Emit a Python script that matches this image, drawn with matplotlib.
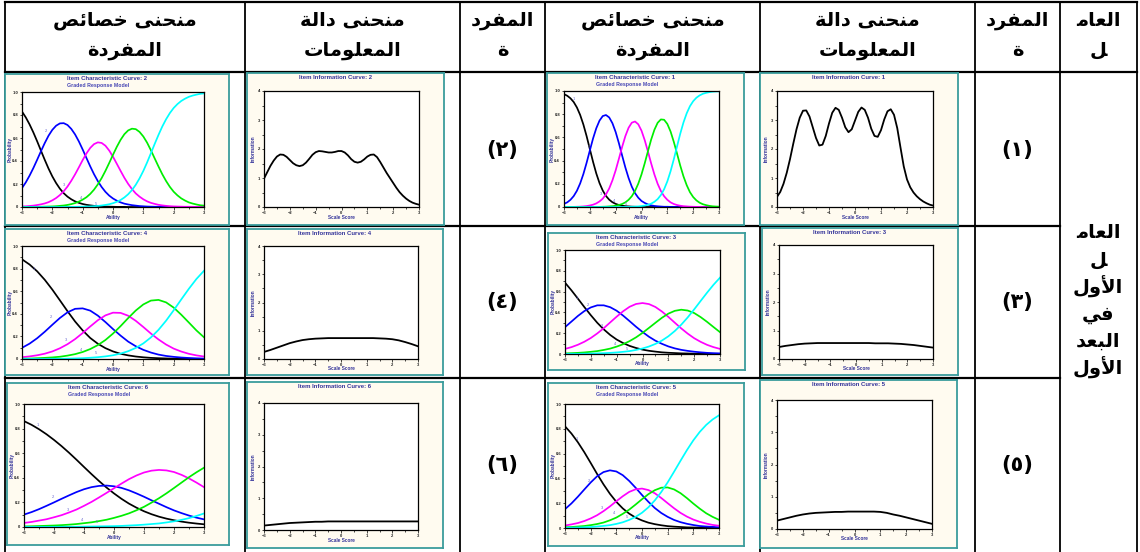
import matplotlib
matplotlib.use("Agg")
import matplotlib.pyplot as plt

W, H = 1140, 552

# ---- data ----
theta = [-3.0, -2.75, -2.5, -2.25, -2.0, -1.75, -1.5, -1.25, -1.0, -0.75, -0.5, -0.25,
         0.0, 0.25, 0.5, 0.75, 1.0, 1.25, 1.5, 1.75, 2.0, 2.25, 2.5, 2.75, 3.0]
theta_fine = [-3.0, -2.875, -2.75, -2.625, -2.5, -2.375, -2.25, -2.125, -2.0, -1.875,
              -1.75, -1.625, -1.5, -1.375, -1.25, -1.125, -1.0, -0.875, -0.75, -0.625,
              -0.5, -0.375, -0.25, -0.125, 0.0, 0.125, 0.25, 0.375, 0.5, 0.625, 0.75,
              0.875, 1.0, 1.125, 1.25, 1.375, 1.5, 1.625, 1.75, 1.875, 2.0, 2.125, 2.25,
              2.375, 2.5, 2.625, 2.75, 2.875, 3.0]

# items 1 and 2 (sharper curves) on theta_fine
icc_item1 = [
    [.973, .959, .937, .905, .858, .794, .711, .611, .500, .389, .289, .206, .142, .095, .063, .041, .027,
     .017, .011, .007, .005, .003, .002, .001, .001, 0, 0, 0, 0, 0, 0, 0, 0, 0, 0, 0, 0, 0, 0, 0, 0, 0, 0,
     0, 0, 0, 0, 0, 0],
    [.027, .040, .062, .094, .140, .203, .284, .381, .487, .591, .679, .745, .784, .793, .772, .722, .646,
     .550, .444, .341, .250, .175, .119, .080, .052, .035, .022, .014, .009, .006, .004, .002, .002, .001,
     .001, 0, 0, 0, 0, 0, 0, 0, 0, 0, 0, 0, 0, 0, 0],
    [0, .001, .001, .001, .002, .003, .005, .008, .013, .020, .031, .048, .072, .109, .160, .230, .316,
     .416, .518, .611, .683, .727, .737, .713, .658, .576, .478, .375, .280, .200, .138, .093, .062, .040,
     .026, .017, .011, .007, .005, .003, .002, .001, .001, 0, 0, 0, 0, 0, 0],
    [0, 0, 0, 0, 0, 0, 0, 0, 0, .001, .001, .001, .002, .003, .005, .007, .011, .017, .026, .040, .062,
     .093, .139, .201, .281, .377, .481, .582, .666, .726, .755, .752, .716, .651, .562, .461, .357, .264,
     .188, .128, .086, .057, .037, .024, .016, .010, .006, .004, .003],
    [0, 0, 0, 0, 0, 0, 0, 0, 0, 0, 0, 0, 0, 0, 0, 0, 0, 0, 0, .001, .001, .002, .003, .005, .008, .012,
     .019, .029, .045, .068, .103, .153, .221, .308, .411, .522, .632, .729, .808, .869, .912, .942, .962,
     .976, .984, .990, .994, .996, .997],
]
icc_item2 = [
    [.830, .779, .718, .648, .571, .490, .410, .334, .266, .208, .159, .120, .090, .067, .049, .036, .026,
     .019, .014, .010, .007, .005, .004, .003, .002, .001, .001, .001, 0, 0, 0, 0, 0, 0, 0, 0, 0, 0, 0, 0,
     0, 0, 0, 0, 0, 0, 0, 0, 0],
    [.165, .214, .273, .339, .411, .485, .556, .620, .671, .707, .727, .729, .713, .679, .631, .570, .500,
     .426, .353, .285, .225, .174, .132, .099, .074, .055, .040, .029, .022, .016, .012, .008, .006, .004,
     .003, .002, .002, .001, .001, .001, 0, 0, 0, 0, 0, 0, 0, 0, 0],
    [.005, .006, .009, .012, .017, .023, .031, .042, .058, .078, .104, .137, .178, .228, .284, .345, .408,
     .466, .514, .547, .562, .557, .533, .491, .437, .376, .314, .254, .201, .156, .118, .090, .067, .049,
     .036, .027, .019, .014, .010, .007, .005, .004, .003, .002, .002, .001, .001, .001, 0],
    [0, 0, .001, .001, .001, .002, .003, .004, .005, .007, .010, .013, .018, .025, .034, .047, .064, .085,
     .114, .151, .197, .251, .314, .383, .454, .523, .584, .633, .666, .681, .677, .653, .613, .559, .493,
     .422, .352, .285, .226, .175, .133, .101, .075, .056, .040, .030, .022, .015, .012],
    [0, 0, 0, 0, 0, 0, 0, 0, 0, 0, 0, 0, .001, .001, .001, .002, .003, .004, .005, .007, .009, .013, .018,
     .024, .033, .045, .061, .083, .111, .147, .193, .249, .314, .388, .468, .549, .627, .700, .763, .817,
     .861, .895, .922, .942, .958, .969, .977, .984, .988],
]
# items 3-6 on theta
icc_item3 = [
    [.686, .612, .532, .451, .373, .300, .237, .183, .139, .105, .078, .058, .042, .031, .023, .016, .012, .009, .006, .005, .003, .002, .002, .001, .001],
    [.258, .312, .366, .413, .448, .468, .468, .450, .416, .369, .316, .262, .212, .166, .128, .098, .073, .054, .040, .030, .022, .016, .011, .008, .006],
    [.049, .066, .089, .118, .154, .198, .248, .304, .359, .411, .454, .481, .490, .480, .452, .409, .357, .301, .246, .196, .152, .117, .088, .066, .049],
    [.006, .008, .011, .015, .021, .028, .039, .052, .071, .094, .124, .160, .203, .251, .300, .348, .388, .415, .426, .418, .394, .355, .309, .259, .210],
    [.001, .002, .002, .003, .004, .006, .008, .011, .015, .021, .028, .039, .053, .072, .097, .129, .170, .221, .282, .352, .429, .510, .590, .666, .734],
]
icc_item4 = [
    [.882, .836, .776, .701, .614, .519, .423, .332, .253, .186, .135, .096, .067, .046, .032, .022, .015, .010, .007, .005, .003, .002, .002, .001, .001],
    [.099, .136, .184, .241, .303, .363, .413, .444, .448, .428, .384, .327, .265, .207, .154, .113, .081, .057, .039, .027, .019, .013, .009, .006, .004],
    [.016, .023, .033, .047, .067, .095, .131, .176, .230, .288, .343, .386, .410, .408, .383, .338, .283, .225, .173, .128, .092, .066, .046, .032, .022],
    [.003, .004, .007, .010, .014, .020, .030, .043, .062, .088, .123, .168, .225, .291, .362, .429, .483, .517, .523, .501, .455, .392, .323, .253, .192],
    [0, .001, .001, .001, .002, .002, .003, .005, .007, .011, .016, .023, .033, .048, .069, .098, .138, .191, .258, .339, .431, .527, .621, .708, .781],
]
icc_item5 = [
    [.820, .762, .692, .612, .525, .436, .352, .276, .211, .158, .116, .084, .061, .043, .031, .022, .015, .011, .008, .005, .004, .003, .002, .001, .001],
    [.152, .198, .252, .310, .367, .417, .451, .465, .456, .426, .380, .325, .266, .211, .161, .121, .090, .065, .047, .034, .024, .016, .012, .009, .006],
    [.020, .029, .040, .056, .077, .103, .136, .174, .216, .256, .291, .312, .318, .306, .280, .242, .200, .159, .122, .092, .068, .050, .036, .025, .018],
    [.006, .008, .012, .016, .023, .032, .044, .062, .084, .114, .148, .189, .232, .273, .305, .325, .327, .311, .281, .241, .197, .156, .119, .090, .066],
    [.002, .003, .004, .006, .008, .012, .017, .023, .033, .046, .065, .090, .123, .167, .223, .290, .368, .454, .542, .628, .707, .775, .831, .875, .909],
]
icc_item6 = [
    [.861, .831, .795, .754, .708, .658, .604, .547, .488, .430, .374, .321, .273, .229, .190, .157, .128, .104, .084, .068, .055, .044, .035, .028, .022],
    [.101, .121, .145, .172, .200, .229, .257, .284, .307, .324, .334, .337, .331, .318, .298, .273, .246, .217, .189, .161, .135, .113, .093, .076, .062],
    [.033, .041, .052, .063, .079, .096, .118, .142, .172, .204, .240, .277, .315, .353, .389, .419, .443, .458, .464, .460, .447, .424, .395, .361, .324],
    [.005, .006, .008, .010, .012, .015, .019, .024, .031, .038, .048, .059, .074, .091, .111, .136, .164, .198, .234, .274, .317, .361, .405, .445, .482],
    [.001, .001, .001, .001, .001, .002, .002, .002, .003, .004, .005, .006, .007, .009, .012, .015, .019, .024, .029, .037, .046, .058, .072, .090, .110],
]

info_item1 = [0.35, 0.52, 0.80, 1.18, 1.65, 2.18, 2.68, 3.08, 3.32, 3.33, 3.12, 2.75, 2.38,
              2.12, 2.15, 2.45, 2.88, 3.25, 3.42, 3.35, 3.08, 2.75, 2.58, 2.68, 2.98, 3.28,
              3.43, 3.35, 3.08, 2.70, 2.45, 2.42, 2.65, 3.02, 3.30, 3.37, 3.18, 2.72, 2.05,
              1.40, 0.95, 0.68, 0.50, 0.37, 0.27, 0.19, 0.13, 0.08, 0.05]
info_item2 = [0.98, 1.20, 1.42, 1.60, 1.74, 1.81, 1.80, 1.73, 1.62, 1.51, 1.44, 1.41, 1.44,
              1.53, 1.66, 1.80, 1.89, 1.93, 1.92, 1.90, 1.88, 1.88, 1.90, 1.93, 1.93, 1.88,
              1.78, 1.65, 1.56, 1.53, 1.56, 1.64, 1.74, 1.80, 1.81, 1.72, 1.55, 1.36, 1.17,
              1.00, 0.83, 0.66, 0.51, 0.39, 0.29, 0.21, 0.15, 0.11, 0.08]
info_item3 = [0.42, 0.46, 0.49, 0.52, 0.54, 0.55, 0.56, 0.56, 0.56, 0.56, 0.56, 0.56, 0.56,
              0.56, 0.56, 0.55, 0.55, 0.55, 0.54, 0.53, 0.51, 0.49, 0.46, 0.43, 0.40]
info_item4 = [0.25, 0.32, 0.40, 0.48, 0.56, 0.62, 0.67, 0.70, 0.72, 0.73, 0.74, 0.74, 0.74,
              0.74, 0.74, 0.74, 0.74, 0.74, 0.73, 0.72, 0.70, 0.66, 0.60, 0.53, 0.45]
info_item5 = [0.26, 0.31, 0.36, 0.41, 0.45, 0.48, 0.50, 0.51, 0.52, 0.53, 0.53, 0.54, 0.54,
              0.54, 0.54, 0.54, 0.53, 0.50, 0.45, 0.41, 0.36, 0.31, 0.26, 0.21, 0.16]
info_item6 = [0.14, 0.16, 0.18, 0.20, 0.22, 0.23, 0.24, 0.25, 0.26, 0.26, 0.27, 0.27, 0.27,
              0.27, 0.27, 0.27, 0.27, 0.27, 0.27, 0.27, 0.27, 0.27, 0.27, 0.27, 0.27]

category_labels = ['1', '2', '3', '4', '5']
item_digits = ['١', '٢', '٣', '٤', '٥', '٦']

# ---- minimal Arabic shaping (presentation forms, visual order) ----
AR_FORMS = {
    'ا': (0xFE8D, 0xFE8E), 'أ': (0xFE83, 0xFE84),
    'ب': (0xFE8F, 0xFE90, 0xFE91, 0xFE92), 'ة': (0xFE93, 0xFE94),
    'ت': (0xFE95, 0xFE96, 0xFE97, 0xFE98), 'ح': (0xFEA1, 0xFEA2, 0xFEA3, 0xFEA4),
    'خ': (0xFEA5, 0xFEA6, 0xFEA7, 0xFEA8), 'د': (0xFEA9, 0xFEAA), 'ر': (0xFEAD, 0xFEAE),
    'ص': (0xFEB9, 0xFEBA, 0xFEBB, 0xFEBC), 'ع': (0xFEC9, 0xFECA, 0xFECB, 0xFECC),
    'ف': (0xFED1, 0xFED2, 0xFED3, 0xFED4), 'ل': (0xFEDD, 0xFEDE, 0xFEDF, 0xFEE0),
    'م': (0xFEE1, 0xFEE2, 0xFEE3, 0xFEE4), 'ن': (0xFEE5, 0xFEE6, 0xFEE7, 0xFEE8),
    'و': (0xFEED, 0xFEEE), 'ى': (0xFEEF, 0xFEF0), 'ي': (0xFEF1, 0xFEF2, 0xFEF3, 0xFEF4),
    'ئ': (0xFE89, 0xFE8A, 0xFE8B, 0xFE8C), 'لأ': (0xFEF7, 0xFEF8), 'لا': (0xFEFB, 0xFEFC),
}
ZWJ = '\u200d'


def shape(text):
    toks = []
    i = 0
    while i < len(text):
        if text[i] == 'ل' and i + 1 < len(text) and text[i + 1] in 'اأ':
            toks.append(text[i:i + 2])
            i += 2
        else:
            toks.append(text[i])
            i += 1

    def joins_next(t):
        return t == ZWJ or (t in AR_FORMS and len(AR_FORMS[t]) == 4)

    out = []
    for k, t in enumerate(toks):
        if t == ZWJ:
            continue
        if t not in AR_FORMS:
            out.append(t)
            continue
        forms = AR_FORMS[t]
        prev = toks[k - 1] if k > 0 else None
        nxt = toks[k + 1] if k + 1 < len(toks) else None
        jp = prev is not None and joins_next(prev)
        jn = len(forms) == 4 and nxt is not None and (nxt == ZWJ or nxt in AR_FORMS)
        if jp and jn:
            c = forms[3]
        elif jp:
            c = forms[1]
        elif jn:
            c = forms[2]
        else:
            c = forms[0]
        out.append(chr(c))
    return ''.join(reversed(out))


# ---- styles ----
CREAM = '#fffbf0'
TEAL = '#3a9c9c'
NAVY = '#33339a'
CURVE_COLORS = ['black', '#0000ff', '#ff00ff', '#00ee00', '#00ffff']
SMALL = 'Liberation Sans'

fig = plt.figure(figsize=(W / 100, H / 100), dpi=100)
tab = fig.add_axes([0, 0, 1, 1])
tab.set_xlim(0, W)
tab.set_ylim(H, 0)
tab.axis('off')

# table grid
cols = [5, 245, 460, 545, 760, 975, 1060, 1137]
for x in cols:
    tab.plot([x, x], [2, H], color='black', lw=1.3)
tab.plot([5, 1137], [2, 2], color='black', lw=1.6)
tab.plot([5, 1137], [72, 72], color='black', lw=1.6)
for y in [226, 378]:
    tab.plot([5, 1060], [y, y], color='black', lw=1.6)

# header text
hdr_font = dict(family='DejaVu Sans', weight='bold', fontsize=14, ha='center', va='center')
headers = [
    ('منحنى خصائص', 'المفردة'),
    ('منحنى دالة', 'المعلومات'),
    ('المفرد', 'ة'),
    ('منحنى خصائص', 'المفردة'),
    ('منحنى دالة', 'المعلومات'),
    ('المفرد', 'ة'),
    ('العام' + ZWJ, ZWJ + 'ل'),
]
for c, (l1, l2) in enumerate(headers):
    xc = (cols[c] + cols[c + 1]) / 2
    tab.text(xc, 20, shape(l1), **hdr_font)
    tab.text(xc, 50, shape(l2), **hdr_font)

# factor cell
factor_lines = ['العام' + ZWJ, ZWJ + 'ل', 'الأول', 'في', 'البعد', 'الأول']
for k, word in enumerate(factor_lines):
    tab.text(1098, 233 + 27 * k, shape(word), **hdr_font)

# item number cells
row_mid = [150, 302, 465]
for r in range(3):
    tab.text(1017, row_mid[r], '(' + item_digits[2 * r] + ')', family='DejaVu Sans',
             weight='bold', fontsize=15, ha='center', va='center')
    tab.text(502, row_mid[r], '(' + item_digits[2 * r + 1] + ')', family='DejaVu Sans',
             weight='bold', fontsize=15, ha='center', va='center')


def add_frame(box):
    x0, y0, x1, y1 = box
    fr = fig.add_axes([x0 / W, 1 - y1 / H, (x1 - x0) / W, (y1 - y0) / H])
    fr.set_facecolor(CREAM)
    fr.set_xticks([])
    fr.set_yticks([])
    for s in fr.spines.values():
        s.set_color(TEAL)
        s.set_linewidth(1.3)
    return fr


def add_plot(box, top, bottom, left=17, right=25):
    x0, y0, x1, y1 = box
    px0, px1 = x0 + left, x1 - right
    py0, py1 = y0 + top, y1 - bottom
    ax = fig.add_axes([px0 / W, 1 - py1 / H, (px1 - px0) / W, (py1 - py0) / H])
    ax.set_facecolor('white')
    for s in ax.spines.values():
        s.set_color('black')
        s.set_linewidth(0.9)
    ax.set_xlim(-3, 3)
    ax.set_xticks([-3, -2, -1, 0, 1, 2, 3])
    ax.set_xticks([-2.5, -1.5, -0.5, 0.5, 1.5, 2.5], minor=True)
    ax.tick_params(which='both', labelsize=3, length=1.8, width=0.5, pad=1,
                   colors='black', labelcolor='#222222')
    ax.tick_params(which='minor', length=1.2)
    return ax, (px0, py0, px1, py1)


def small_ticklabels(ax):
    for lab in ax.get_xticklabels() + ax.get_yticklabels():
        lab.set_family(SMALL)
        lab.set_weight('bold')


def draw_icc(box, item, xs, curves, labels, top=18, bottom=18):
    add_frame(box)
    ax, (px0, py0, px1, py1) = add_plot(box, top, bottom)
    for vals, col in zip(curves, CURVE_COLORS):
        ax.plot(xs, vals, color=col, lw=1.25, solid_joinstyle='round')
    ax.set_ylim(0, 1.0)
    ax.set_yticks([0, 0.2, 0.4, 0.6, 0.8, 1.0])
    ax.set_yticklabels(['0', '0.2', '0.4', '0.6', '0.8', '1.0'])
    ax.set_yticks([0.1, 0.3, 0.5, 0.7, 0.9], minor=True)
    small_ticklabels(ax)
    for (tx, ty), name in zip(labels, category_labels):
        if tx is not None:
            ax.text(tx, ty, name, fontsize=3, color='#6a6ad0', family=SMALL,
                    ha='center', va='center')
    xc = (px0 + px1) / 2 - 6
    fig.text(xc / W, 1 - (box[1] + 4.5) / H, 'Item Characteristic Curve: %d' % item,
             fontsize=4.3, weight='bold', color=NAVY, family=SMALL, ha='center', va='center')
    fig.text((xc - 40) / W, 1 - (box[1] + 11.5) / H, 'Graded Response Model',
             fontsize=3.8, weight='bold', color='#4646b4', family=SMALL, ha='left', va='center')
    fig.text((px0 + px1) / 2 / W, 1 - (py1 + 10) / H, 'Ability', fontsize=3.4,
             weight='bold', color=NAVY, family=SMALL, ha='center', va='center')
    fig.text((box[0] + 5) / W, 1 - (py0 + py1) / 2 / H, 'Probability', fontsize=3.4,
             weight='bold', color=NAVY, family=SMALL, ha='center', va='center', rotation=90)


def draw_info(box, item, xs, vals, top=18, bottom=18):
    add_frame(box)
    ax, (px0, py0, px1, py1) = add_plot(box, top, bottom)
    ax.plot(xs, vals, color='black', lw=1.3, solid_joinstyle='round')
    ax.set_ylim(0, 4)
    ax.set_yticks([0, 1, 2, 3, 4])
    ax.set_yticks([0.5, 1.5, 2.5, 3.5], minor=True)
    small_ticklabels(ax)
    xc = (px0 + px1) / 2 - 6
    fig.text(xc / W, 1 - (box[1] + 4.5) / H, 'Item Information Curve: %d' % item,
             fontsize=4.3, weight='bold', color=NAVY, family=SMALL, ha='center', va='center')
    fig.text((px0 + px1) / 2 / W, 1 - (py1 + 10) / H, 'Scale Score', fontsize=3.4,
             weight='bold', color=NAVY, family=SMALL, ha='center', va='center')
    fig.text((box[0] + 6) / W, 1 - (py0 + py1) / 2 / H, 'Information', fontsize=3.4,
             weight='bold', color=NAVY, family=SMALL, ha='center', va='center', rotation=90)


# row 1
draw_icc((5, 74, 229, 225), 2, theta_fine, icc_item2,
         [(None, None), (-2.2, .66), (-1.6, .19), (-1.05, .08), (-0.55, .03)])
draw_info((247, 73, 444, 225), 2, theta_fine, info_item2)
draw_icc((547, 73, 744, 225), 1, theta_fine, icc_item1,
         [(-2.6, .93), (-2.05, .52), (-1.55, .11), (-1.05, .05), (-0.6, .03)])
draw_info((760, 73, 958, 225), 1, theta_fine, info_item1)
# row 2
draw_icc((5, 229, 229, 375), 4, theta, icc_item4,
         [(-2.6, .80), (-2.05, .37), (-1.55, .17), (-1.05, .08), (-0.55, .05)], top=17, bottom=16)
draw_info((247, 229, 443, 375), 4, theta, info_item4, top=17, bottom=16)
draw_icc((548, 233, 745, 370), 3, theta, icc_item3,
         [(-2.55, .54), (-2.1, .47), (-1.55, .27), (-1.05, .10), (-0.6, .05)], top=17, bottom=16)
draw_info((762, 228, 958, 375), 3, theta, info_item3, top=17, bottom=16)
# row 3
draw_icc((7, 383, 229, 545), 6, theta, icc_item6,
         [(-2.55, .83), (-2.05, .24), (-1.55, .14), (-1.05, .06), (-0.55, .04)], top=21, bottom=18)
draw_info((247, 382, 443, 548), 6, theta, info_item6, top=21, bottom=18)
draw_icc((548, 383, 744, 546), 5, theta, icc_item5,
         [(-2.55, .72), (-2.05, .38), (-1.55, .16), (-1.1, .12), (-0.6, .09)], top=21, bottom=18)
draw_info((760, 380, 957, 548), 5, theta, info_item5, top=20, bottom=19)

fig.savefig('out.png', dpi=100)
